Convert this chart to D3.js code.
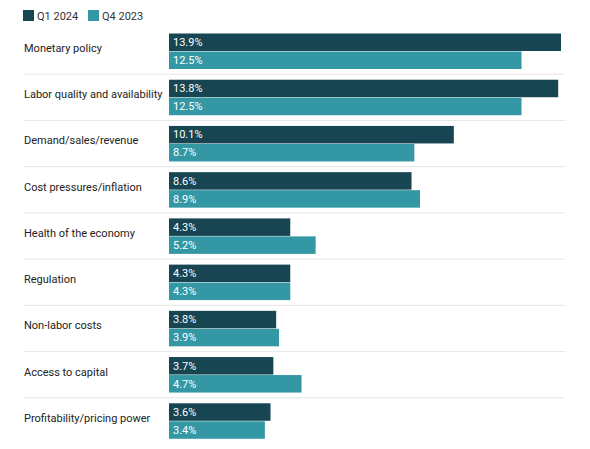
<!DOCTYPE html>
<html><head><meta charset="utf-8">
<script src="https://cdn.jsdelivr.net/npm/d3@7"></script>
<style>body{margin:0;background:#fff}text{font-family:Roboto,sans-serif}</style>
</head><body><svg id="chart" width="590" height="449"></svg>
<script>
const categories = ['Monetary policy', 'Labor quality and availability', 'Demand/sales/revenue',
  'Cost pressures/inflation', 'Health of the economy', 'Regulation', 'Non-labor costs',
  'Access to capital', 'Profitability/pricing power']
const q1_2024 = [13.9, 13.8, 10.1, 8.6, 4.3, 4.3, 3.8, 3.7, 3.6]
const q4_2023 = [12.5, 12.5, 8.7, 8.9, 5.2, 4.3, 3.9, 4.7, 3.4]
const seriesNames = ['Q1 2024', 'Q4 2023']
const colors = ['#174552', '#3498a4']

const svg = d3.select('#chart')
const x = d3.scaleLinear().domain([0, 13.9]).range([169, 561])
const y = d3.scaleBand().domain(categories).range([28, 444]).paddingInner(0).paddingOuter(0)
const barH = 17.5

// legend
const leg = svg.selectAll('g.leg').data(seriesNames).join('g')
  .attr('transform', (d, i) => `translate(${23 + i * 65},10)`)
leg.append('rect').attr('width', 11).attr('height', 11).attr('fill', (d, i) => colors[i])
leg.append('text').attr('x', 14).attr('y', 10).attr('font-size', 11).attr('fill', '#333').text((d) => d)

const rows = svg.selectAll('g.row').data(categories).join('g')
  .attr('class', 'row').attr('transform', (d) => `translate(0,${y(d)})`)

rows.filter((d, i) => i < categories.length - 1).append('line')
  .attr('x1', 24).attr('x2', 565).attr('y1', y.bandwidth()).attr('y2', y.bandwidth())
  .attr('stroke', '#e6e6e6').attr('stroke-width', 1)

rows.append('text').attr('x', 24).attr('y', 24).attr('font-size', 11).attr('fill', '#222')
  .text((d) => d)

const series = [q1_2024, q4_2023]
series.forEach((vals, s) => {
  rows.append('rect')
    .attr('x', x(0)).attr('y', 5.5 + s * (barH + 0.5))
    .attr('width', (d, i) => x(vals[i]) - x(0)).attr('height', barH)
    .attr('fill', colors[s])
  rows.append('text')
    .attr('x', x(0) + 4).attr('y', 5.5 + s * (barH + 0.5) + 12.5)
    .attr('font-size', 11).attr('fill', '#fff')
    .text((d, i) => vals[i].toFixed(1) + '%')
})
</script></body></html>
